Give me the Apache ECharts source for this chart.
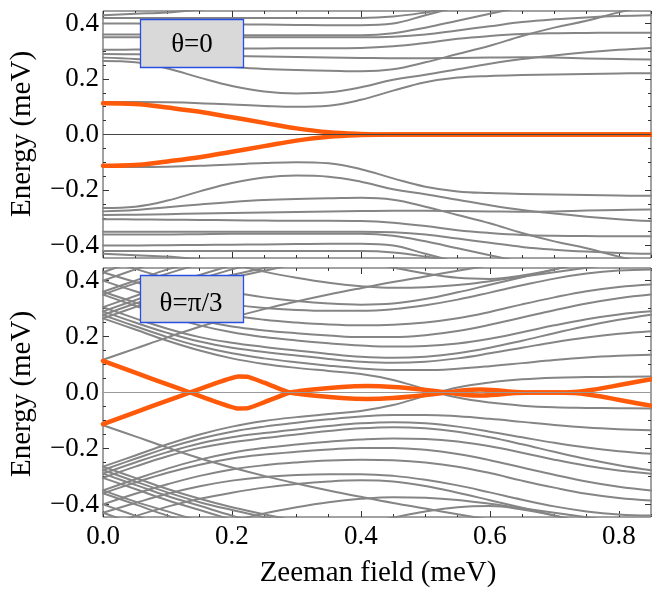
<!DOCTYPE html>
<html><head><meta charset="utf-8">
<script src="https://cdn.jsdelivr.net/npm/echarts@6/dist/echarts.min.js"></script>
<style>html,body{margin:0;padding:0;background:#fff}#c{width:652px;height:589px}</style>
</head><body><div id="c"></div>
<script>
// ---------- data ----------
const xs = [0,0.05,0.1,0.15,0.2,0.25,0.3,0.35,0.4,0.45,0.5,0.55,0.6,0.65,0.7,0.75,0.8,0.85];
const xTicksMajor = [0,0.2,0.4,0.6,0.8];
const xTicksMinor = [0.05,0.1,0.15,0.25,0.3,0.35,0.45,0.5,0.55,0.65,0.7,0.75,0.85];
const yTicksMajor = [-0.4,-0.2,0,0.2,0.4];
const yTicksMinor = [-0.35,-0.3,-0.25,-0.15,-0.1,-0.05,0.05,0.1,0.15,0.25,0.3,0.35];

// theta = 0 panel, grey levels
const t_A  = [.117,.117,.116,.113,.108,.103,.100,.104,.125,.158,.188,.205,.211,.214,.216,.218,.220,.221];
const t_B  = [.265,.260,.238,.205,.175,.155,.148,.152,.170,.197,.215,.235,.255,.272,.285,.296,.305,.312];
const t_C  = [.277,.272,.262,.252,.243,.236,.232,.230,.228,.235,.260,.290,.320,.355,.385,.410,.440,.470];
const t_D  = [.290,.289,.287,.285,.283,.281,.279,.277,.276,.275,.275,.276,.277,.278,.277,.274,.272,.270];
const t_E  = [.305,.306,.307,.308,.309,.310,.311,.311,.312,.318,.330,.345,.355,.362,.365,.366,.367,.367];
const t_F  = [.350,.350,.350,.350,.350,.350,.350,.350,.350,.352,.360,.375,.390,.405,.415,.422,.427,.430];
const t_G  = [.360,.360,.360,.359,.358,.358,.358,.358,.358,.365,.385,.410,.435,.460];
const t_H  = [.400,.400,.399,.398,.397,.396,.395,.394,.394,.400,.430,.460];
const t_I  = [.430,.435,.440,.450,.460];
const t_J  = [.420,.420,.420,.420,.420,.420,.420,.420,.420,.425,.440,.460];
const t_nA = [-.117,-.117,-.116,-.113,-.108,-.103,-.100,-.104,-.125,-.158,-.188,-.205,-.211,-.214,-.216,-.218,-.220,-.221];
const t_nB = [-.265,-.260,-.238,-.205,-.175,-.155,-.148,-.152,-.170,-.197,-.215,-.235,-.255,-.272,-.285,-.296,-.305,-.312];
const t_nC = [-.277,-.272,-.262,-.252,-.243,-.236,-.232,-.230,-.228,-.235,-.260,-.290,-.320,-.355,-.385,-.410,-.440,-.470];
const t_nD = [-.290,-.289,-.287,-.285,-.283,-.281,-.279,-.277,-.276,-.275,-.275,-.276,-.277,-.278,-.277,-.274,-.272,-.270];
const t_nE = [-.305,-.306,-.307,-.308,-.309,-.310,-.311,-.311,-.312,-.318,-.330,-.345,-.355,-.362,-.365,-.366,-.367,-.367];
const t_nF = [-.350,-.350,-.350,-.350,-.350,-.350,-.350,-.350,-.350,-.352,-.360,-.375,-.390,-.405,-.415,-.422,-.427,-.430];
const t_nG = [-.360,-.360,-.360,-.359,-.358,-.358,-.358,-.358,-.358,-.365,-.385,-.410,-.435,-.460];
const t_nH = [-.400,-.400,-.399,-.398,-.397,-.396,-.395,-.394,-.394,-.400,-.430,-.460];
const t_nI = [-.430,-.435,-.440,-.450,-.460];
const t_nJ = [-.420,-.420,-.420,-.420,-.420,-.420,-.420,-.420,-.420,-.425,-.440,-.460];
// theta = 0 panel, Majorana pair
const t_O1 = [.113,.110,.097,.082,.062,.042,.022,.008,.002,0,0,0,0,0,0,0,0,0];
const t_O2 = [-.113,-.110,-.097,-.082,-.062,-.042,-.022,-.008,-.002,0,0,0,0,0,0,0,0,0];

// theta = pi/3 panel, grey levels
const b_Q1  = [.265,.225,.185,.150,.122,.102,.088,.077,.066,.045,.012,-.018,-.036,-.047,-.053,-.055,-.056,-.057];
const b_Q2  = [.277,.237,.198,.165,.140,.122,.108,.096,.086,.080,.080,.085,.094,.105,.116,.125,.131,.135];
const b_Q3  = [.290,.250,.213,.182,.160,.145,.132,.120,.110,.106,.110,.122,.140,.160,.180,.197,.210,.219];
const b_Q4  = [.305,.265,.228,.198,.178,.163,.150,.138,.128,.124,.128,.140,.160,.185,.212,.238,.260,.278];
const b_Q5  = [.350,.310,.272,.240,.215,.198,.186,.176,.168,.164,.166,.175,.192,.215,.240,.262,.279,.290];
const b_Q6  = [.360,.322,.287,.258,.236,.222,.212,.204,.198,.198,.205,.220,.242,.268,.294,.318,.337,.350];
const b_Q7  = [.400,.362,.328,.298,.275,.260,.250,.243,.240,.242,.250,.265,.288,.315,.340,.362,.377,.386];
const b_Q8  = [.430,.395,.362,.335,.315,.302,.295,.292,.292,.298,.312,.332,.357,.383,.407,.425,.436,.440];
const b_Q9  = [.480,.442,.408,.380,.358,.340,.327,.318,.314,.318,.334,.358,.385,.412,.440,.466];
const b_Q10 = [.700,.660,.620,.590,.560,.530,.510,.490,.470,.447,.425,.410,.406,.418,.440,.468,.500,.530];
const b_Q11 = [.600,.560,.520,.490,.460,.432,.410,.392,.380,.374,.376,.384,.398,.414,.430,.446,.462,.478];
const b_P1  = [.117,.157,.197,.235,.268,.298,.325,.350,.373,.395,.415,.435,.455];
const b_A1  = [.265,.305,.345,.380,.410,.435,.460,.480];
const b_A2  = [.277,.318,.357,.392,.420,.445,.470];
const b_A3  = [.290,.330,.370,.405,.440,.470];
const b_A4  = [.305,.345,.385,.420,.455];
const b_A5  = [.350,.390,.425,.460];
const b_A6  = [.360,.400,.440,.470];
const b_A7  = [.400,.440,.480];
const b_A8  = [.430,.470];
const b_nQ1  = [-.265,-.225,-.185,-.150,-.122,-.102,-.088,-.077,-.066,-.045,-.012,.018,.036,.047,.053,.055,.056,.057];
const b_nQ2  = [-.277,-.237,-.198,-.165,-.140,-.122,-.108,-.096,-.086,-.080,-.080,-.085,-.094,-.105,-.116,-.125,-.131,-.135];
const b_nQ3  = [-.290,-.250,-.213,-.182,-.160,-.145,-.132,-.120,-.110,-.106,-.110,-.122,-.140,-.160,-.180,-.197,-.210,-.219];
const b_nQ4  = [-.305,-.265,-.228,-.198,-.178,-.163,-.150,-.138,-.128,-.124,-.128,-.140,-.160,-.185,-.212,-.238,-.260,-.278];
const b_nQ5  = [-.350,-.310,-.272,-.240,-.215,-.198,-.186,-.176,-.168,-.164,-.166,-.175,-.192,-.215,-.240,-.262,-.279,-.290];
const b_nQ6  = [-.360,-.322,-.287,-.258,-.236,-.222,-.212,-.204,-.198,-.198,-.205,-.220,-.242,-.268,-.294,-.318,-.337,-.350];
const b_nQ7  = [-.400,-.362,-.328,-.298,-.275,-.260,-.250,-.243,-.240,-.242,-.250,-.265,-.288,-.315,-.340,-.362,-.377,-.386];
const b_nQ8  = [-.430,-.395,-.362,-.335,-.315,-.302,-.295,-.292,-.292,-.298,-.312,-.332,-.357,-.383,-.407,-.425,-.436,-.440];
const b_nQ9  = [-.480,-.442,-.408,-.380,-.358,-.340,-.327,-.318,-.314,-.318,-.334,-.358,-.385,-.412,-.440,-.466];
const b_nQ10 = [-.700,-.660,-.620,-.590,-.560,-.530,-.510,-.490,-.470,-.447,-.425,-.410,-.406,-.418,-.440,-.468,-.500,-.530];
const b_nQ11 = [-.600,-.560,-.520,-.490,-.460,-.432,-.410,-.392,-.380,-.374,-.376,-.384,-.398,-.414,-.430,-.446,-.462,-.478];
const b_nP1  = [-.117,-.157,-.197,-.235,-.268,-.298,-.325,-.350,-.373,-.395,-.415,-.435,-.455];
const b_nA1  = [-.265,-.305,-.345,-.380,-.410,-.435,-.460,-.480];
const b_nA2  = [-.277,-.318,-.357,-.392,-.420,-.445,-.470];
const b_nA3  = [-.290,-.330,-.370,-.405,-.440,-.470];
const b_nA4  = [-.305,-.345,-.385,-.420,-.455];
const b_nA5  = [-.350,-.390,-.425,-.460];
const b_nA6  = [-.360,-.400,-.440,-.470];
const b_nA7  = [-.400,-.440,-.480];
const b_nA8  = [-.430,-.470];
// theta = pi/3 panel, Majorana pair (own x grid)
const bxo  = [0,.05,.1,.135,.17,.21,.225,.25,.29,.33,.37,.41,.45,.49,.533,.56,.585,.61,.64,.67,.7,.73,.76,.79,.82,.85];
const b_O1 = [.113,.071,.029,0,-.029,-.057,-.056,-.035,0,.012,.020,.023,.020,.012,0,-.008,-.011,-.008,-.002,0,0,-.002,-.010,-.022,-.035,-.047];
const b_O2 = [-.113,-.071,-.029,0,.029,.057,.056,.035,0,-.012,-.020,-.023,-.020,-.012,0,.008,.011,.008,.002,0,0,.002,.010,.022,.035,.047];

const topGrey = [t_A,t_B,t_C,t_D,t_E,t_F,t_G,t_H,t_I,t_J,t_nA,t_nB,t_nC,t_nD,t_nE,t_nF,t_nG,t_nH,t_nI,t_nJ];
const topOrange = [t_O1,t_O2];
const botGrey = [b_Q1,b_Q2,b_Q3,b_Q4,b_Q5,b_Q6,b_Q7,b_Q8,b_Q9,b_Q10,b_Q11,b_P1,b_A1,b_A2,b_A3,b_A4,b_A5,b_A6,b_A7,b_A8,
  b_nQ1,b_nQ2,b_nQ3,b_nQ4,b_nQ5,b_nQ6,b_nQ7,b_nQ8,b_nQ9,b_nQ10,b_nQ11,b_nP1,b_nA1,b_nA2,b_nA3,b_nA4,b_nA5,b_nA6,b_nA7,b_nA8];
const botOrange = [b_O1,b_O2];

// ---------- chart ----------
const FONT = '"Liberation Serif","Times New Roman",serif';
const GREY = '#858585', ORANGE = '#ff5a0a', TICK = '#333';
const X_MIN = 0, X_MAX = 0.85, Y_MIN = -0.445, Y_MAX = 0.445;

function fmtY(v){ const a = Math.abs(v).toFixed(1); return (v < -1e-9 ? '\u2212' : '') + a; }

function xAx(gi, pos, ticks, len, showLabel){
  return {type:'value', gridIndex:gi, position:pos, min:X_MIN, max:X_MAX,
    axisLine:{show:false, onZero:false}, splitLine:{show:false},
    axisTick:{show:true, inside:true, length:len, customValues:ticks, lineStyle:{color:TICK,width:1}},
    axisLabel:{show:showLabel, customValues:xTicksMajor, margin:6, fontSize:27, fontFamily:FONT, color:'#000',
      formatter:v=>v.toFixed(1)}};
}
function yAx(gi, pos, ticks, len, showLabel){
  return {type:'value', gridIndex:gi, position:pos, min:Y_MIN, max:Y_MAX,
    axisLine:{show:false, onZero:false}, splitLine:{show:false},
    axisTick:{show:true, inside:true, length:len, customValues:ticks, lineStyle:{color:TICK,width:1}},
    axisLabel:{show:showLabel, customValues:yTicksMajor, margin:4, fontSize:27, fontFamily:FONT, color:'#000',
      formatter:fmtY}};
}
const xAxis = [], yAxis = [];
[0,1].forEach(gi=>{
  xAxis.push(xAx(gi,'bottom',xTicksMajor,6,gi===1), xAx(gi,'bottom',xTicksMinor,3,false),
             xAx(gi,'top',xTicksMajor,6,false), xAx(gi,'top',xTicksMinor,3,false));
  yAxis.push(yAx(gi,'left',yTicksMajor,6,true), yAx(gi,'left',yTicksMinor,3,false),
             yAx(gi,'right',yTicksMajor,6,false), yAx(gi,'right',yTicksMinor,3,false));
});

function mk(xv, yv, gi, color, width, z, smooth){
  const data = [];
  for (let i = 0; i < yv.length; i++) if (yv[i] != null) data.push([xv[i], yv[i]]);
  return {type:'line', xAxisIndex:gi*4, yAxisIndex:gi*4, data, showSymbol:false, symbol:'none',
    smooth, lineStyle:{color, width, cap:'round', join:'round'}, z, silent:true, animation:false, clip:true};
}
const series = [];
series.push({type:'line', xAxisIndex:0, yAxisIndex:0, data:[], z:1, silent:true,
  markLine:{silent:true, symbol:'none', animation:false, label:{show:false},
    lineStyle:{color:'#444', width:1, type:'solid'}, data:[{yAxis:0}]}});
series.push({type:'line', xAxisIndex:4, yAxisIndex:4, data:[], z:1, silent:true,
  markLine:{silent:true, symbol:'none', animation:false, label:{show:false},
    lineStyle:{color:'#999', width:1, type:'solid'}, data:[{yAxis:0}]}});
topGrey.forEach(a=>series.push(mk(xs,a,0,GREY,2,2,0.4)));
botGrey.forEach(a=>series.push(mk(xs,a,1,GREY,2,2,0.4)));
topOrange.forEach(a=>series.push(mk(xs,a,0,ORANGE,4.5,3,0.4)));
botOrange.forEach(a=>series.push(mk(bxo,a,1,ORANGE,4.5,3,0.15)));

const txt = (x,y,text,size,rot)=>({type:'text', x, y, rotation:rot||0, z:101, silent:true,
  style:{text, fontSize:size, fontFamily:FONT, fill:'#000', align:'center', verticalAlign:'middle'}});

const option = {
  animation:false,
  backgroundColor:'#fff',
  grid:[
    {left:103, top:11, width:548, height:247, show:true, borderColor:'#444', borderWidth:1, backgroundColor:'transparent'},
    {left:103, top:268, width:548, height:249, show:true, borderColor:'#444', borderWidth:1, backgroundColor:'transparent'}
  ],
  xAxis, yAxis, series,
  graphic:[
    {type:'rect', z:100, silent:true, shape:{x:140.5,y:19.5,width:103,height:48}, style:{fill:'#d9d9d9', stroke:'#2a4fe0', lineWidth:1.3}},
    txt(192,45,'\u03b8=0',27),
    {type:'rect', z:100, silent:true, shape:{x:140.5,y:275.5,width:103,height:47}, style:{fill:'#d9d9d9', stroke:'#2a4fe0', lineWidth:1.3}},
    txt(191,304,'\u03b8=\u03c0/3',27),
    txt(378,573,'Zeeman field (meV)',29),
    txt(22,134,'Energy (meV)',29,Math.PI/2),
    txt(22,394,'Energy (meV)',29,Math.PI/2)
  ]
};
const chart = echarts.init(document.getElementById('c'), null, {renderer:'canvas'});
chart.setOption(option);
</script></body></html>
